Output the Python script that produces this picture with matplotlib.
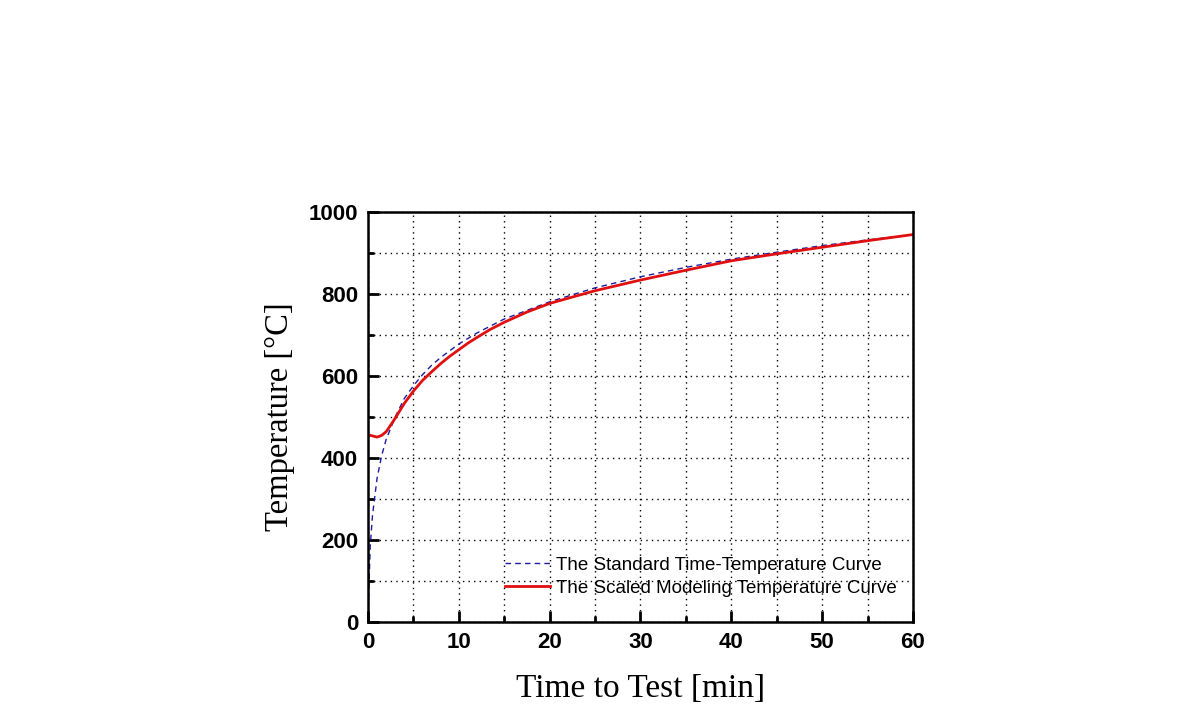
import matplotlib
matplotlib.use("Agg")
import matplotlib.pyplot as plt

# standard time-temperature curve
std_time = [0, 0.25, 0.5, 1, 1.5, 2, 3, 4, 5, 6, 7, 8, 10, 12, 15, 20, 25, 30, 35, 40, 45, 50, 55, 60]
std_temp = [10, 185, 260, 350, 405, 445, 500, 545, 576, 603, 626, 645, 678, 705, 739, 781, 815, 842, 865, 885, 902, 918, 932, 945]

# scaled modeling temperature curve
model_time = [0.3, 1, 1.5, 2, 2.5, 3, 4, 5, 6, 7, 8, 9, 10, 11, 12, 13.5, 15, 17.5, 20, 25, 30, 35, 40, 45, 50, 55, 60]
model_temp = [455, 451, 455, 464, 480, 497, 533, 563, 589, 610, 630, 648, 664, 680, 694, 714, 731, 756, 777, 808, 834, 858, 881, 898, 914, 930, 945]

x_ticks = [0, 10, 20, 30, 40, 50, 60]
y_ticks = [0, 200, 400, 600, 800, 1000]

fig = plt.figure(figsize=(11.9, 7.16), dpi=100)
ax = fig.add_axes([0.3092, 0.1313, 0.458, 0.5726])

ax.plot(std_time, std_temp, color="#1c1ca0", linewidth=1.0, dashes=(4, 3),
        label="The Standard Time-Temperature Curve")
ax.plot(model_time, model_temp, color="#e01010", linewidth=2.0,
        label="The Scaled Modeling Temperature Curve")

ax.set_xlim(0, 60)
ax.set_ylim(0, 1000)
ax.set_xticks(x_ticks)
ax.set_yticks(y_ticks)
ax.set_xticks(range(5, 60, 10), minor=True)
ax.set_yticks(range(100, 1000, 200), minor=True)
ax.grid(True, which="both", color="black", linestyle=(0, (1, 3)), linewidth=1.0)

ax.tick_params(which="both", direction="in", top=False, right=False, width=2)
ax.tick_params(which="major", length=8, pad=7)
ax.tick_params(which="minor", length=4)
for lab in ax.get_xticklabels() + ax.get_yticklabels():
    lab.set_fontfamily("Liberation Sans")
    lab.set_fontweight("bold")
    lab.set_fontsize(16)
for sp in ax.spines.values():
    sp.set_linewidth(1.8)

ax.set_xlabel("Time to Test [min]", fontfamily="Liberation Serif", fontsize=24, labelpad=15)
ax.set_ylabel("Temperature [°C]", fontfamily="Liberation Serif", fontsize=23.5, labelpad=10)

ax.legend(loc="lower right", bbox_to_anchor=(0.995, 0.03), frameon=False,
          prop={"family": "Liberation Sans", "size": 13.5}, handlelength=2.4,
          handletextpad=0.35, labelspacing=0.3, borderpad=0.2)

fig.savefig("out.png", dpi=100)
